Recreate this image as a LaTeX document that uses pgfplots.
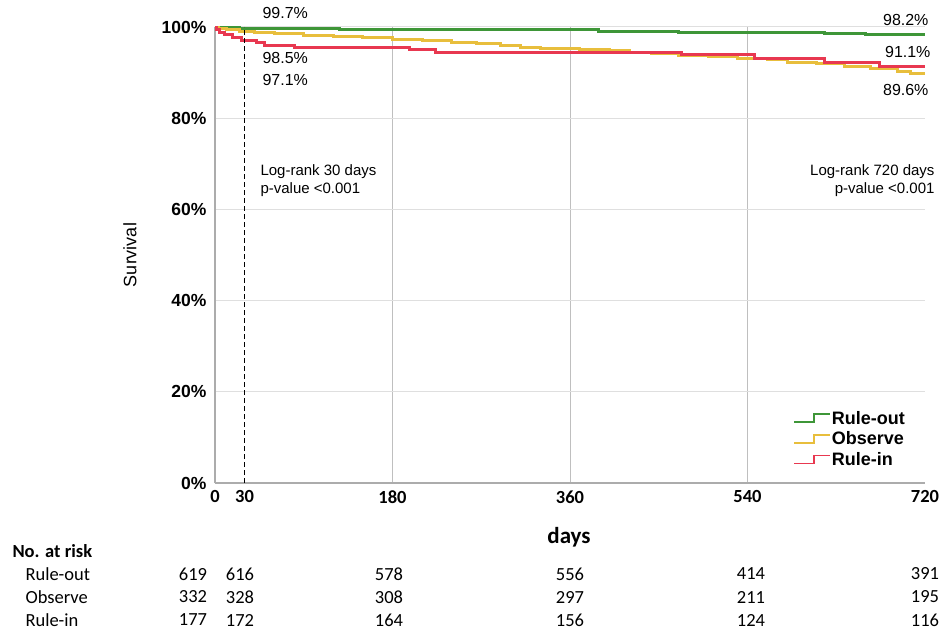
\documentclass[border=0pt]{standalone}
\usepackage{fontspec}
\setmainfont{Liberation Sans}
\newfontfamily\calfont{Carlito}
\usepackage{pgfplots}
\pgfplotsset{compat=1.18}
\definecolor{cgreen}{RGB}{62,150,56}
\definecolor{cyellow}{RGB}{232,190,60}
\definecolor{cred}{RGB}{232,56,80}
\begin{document}
\begin{tikzpicture}
\useasboundingbox (-215pt,-152pt) rectangle (729pt,483pt);
\begin{axis}[at={(0,0)}, anchor=south west, scale only axis,
  width=710pt, height=456pt,
  xmin=0, xmax=720, ymin=0, ymax=100,
  axis x line=bottom, axis y line=left,
  axis line style={-, draw=gray!65, line width=1.6pt},
  xtick={180,360,540}, xticklabels={180,360,540},
  extra x ticks={0,30,720}, extra x tick labels={0,30,720},
  extra x tick style={grid=none},
  ytick={0,20,40,60,80,100}, yticklabels={0\%,20\%,40\%,60\%,80\%,100\%},
  major tick length=0pt,
  xmajorgrids, ymajorgrids,
  x grid style={draw=gray!50, line width=1pt},
  y grid style={draw=gray!25, line width=1pt},
  xticklabel style={font=\calfont\bfseries\fontsize{18.5}{18.5}\selectfont, yshift=-4pt},
  yticklabel style={font=\bfseries\fontsize{17.5}{18}\selectfont, xshift=-5pt},
  legend style={at={(0.81,0.165)}, anchor=north west, draw=none, fill=none,
    font=\bfseries\fontsize{18}{18}\selectfont, row sep=4pt,
    nodes={inner sep=1pt}},
  legend cell align=left,
  legend image code/.code={\draw[#1, line width=1.5pt] (0pt,-4pt) -- (20pt,-4pt) -- (20pt,4pt) -- (36pt,4pt);},
  const plot,
]
\addplot[cgreen, line width=3pt] coordinates {(0,100)(8,99.8)(25,99.7)(126,99.4)(389,99.1)(470,98.9)(564,98.7)(618,98.5)(660,98.3)(720,98.3)};
\addlegendentry{Rule-out}
\addplot[cyellow, line width=3pt] coordinates {(0,100)(4,99.7)(12,99.4)(25,99.1)(40,98.8)(60,98.5)(90,98.2)(120,97.9)(150,97.6)(180,97.3)(210,97.0)(240,96.6)(265,96.3)(290,95.9)(310,95.6)(330,95.3)(370,95.0)(400,94.8)(420,94.5)(443,94.1)(470,93.8)(500,93.5)(530,93.2)(560,92.8)(581,92.3)(610,91.9)(638,91.4)(665,90.8)(692,90.2)(705,89.8)(720,89.8)};
\addlegendentry{Observe}
\addplot[cred, line width=3pt] coordinates {(0,100)(2,99.4)(5,98.9)(10,98.3)(18,97.7)(27,97.1)(42,96.6)(50,96.0)(81,95.5)(197,95.0)(224,94.5)(473,93.9)(547,93.0)(618,92.2)(674,91.4)(720,91.4)};
\addlegendentry{Rule-in}
\addplot[black, line width=1.3pt, dash pattern=on 5pt off 3pt, forget plot, sharp plot] coordinates {(30,0)(30,100)};
\end{axis}
\begin{scope}[shift={(-215pt,483pt)}, x=1pt, y=-1pt]
\node[anchor=west, font=\fontsize{16}{16}\selectfont] at (259,13) {99.7\%};
\node[anchor=west, font=\fontsize{16}{16}\selectfont] at (259,58) {98.5\%};
\node[anchor=west, font=\fontsize{16}{16}\selectfont] at (259,80) {97.1\%};
\node[anchor=east, font=\fontsize{16}{16}\selectfont] at (932,20) {98.2\%};
\node[anchor=east, font=\fontsize{16}{16}\selectfont] at (934,52) {91.1\%};
\node[anchor=east, font=\fontsize{16}{16}\selectfont] at (932,90) {89.6\%};
\node[anchor=west, font=\fontsize{15}{15}\selectfont] at (257,172) {Log-rank 30 days};
\node[anchor=west, font=\fontsize{15}{15}\selectfont] at (257,190) {p-value <0.001};
\node[anchor=east, font=\fontsize{15}{15}\selectfont] at (938,172) {Log-rank 720 days};
\node[anchor=east, font=\fontsize{15}{15}\selectfont] at (938,190) {p-value <0.001};
\node[rotate=90, font=\fontsize{18}{18}\selectfont] at (130,255) {Survival};
\node[font=\calfont\bfseries\fontsize{23}{23}\selectfont] at (569,537) {days};
\node[anchor=west, font=\calfont\bfseries\fontsize{18.5}{18.5}\selectfont] at (9,551) {No. at risk};
\foreach \lab/\yy/\a/\b/\c/\d/\e/\f in {Rule-out/574/619/616/578/556/414/391, Observe/597/332/328/308/297/211/195, Rule-in/620/177/172/164/156/124/116}{
  \node[anchor=west, font=\calfont\fontsize{18.5}{18.5}\selectfont] at (22,\yy) {\lab};
  \node[font=\calfont\fontsize{18.5}{18.5}\selectfont] at (193,\yy) {\a};
  \node[font=\calfont\fontsize{18.5}{18.5}\selectfont] at (240,\yy) {\b};
  \node[font=\calfont\fontsize{18.5}{18.5}\selectfont] at (389,\yy) {\c};
  \node[font=\calfont\fontsize{18.5}{18.5}\selectfont] at (570,\yy) {\d};
  \node[font=\calfont\fontsize{18.5}{18.5}\selectfont] at (751,\yy) {\e};
  \node[font=\calfont\fontsize{18.5}{18.5}\selectfont] at (925,\yy) {\f};
}
\end{scope}
\end{tikzpicture}
\end{document}
